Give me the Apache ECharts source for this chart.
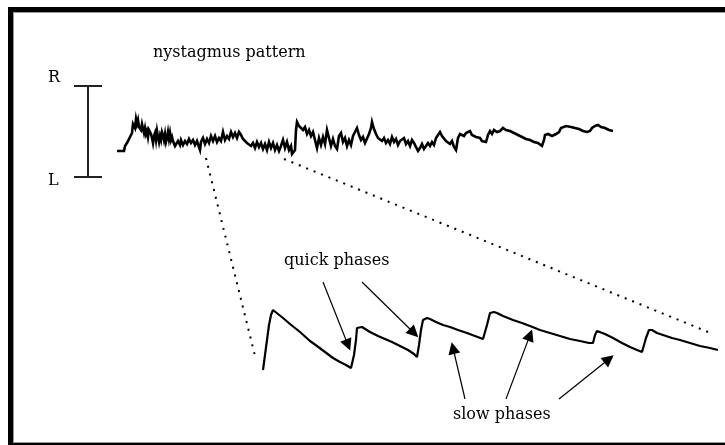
<!DOCTYPE html>
<html>
<head>
<meta charset="utf-8">
<script src="https://cdn.jsdelivr.net/npm/echarts@6/dist/echarts.min.js"></script>
<style>html,body{margin:0;padding:0;background:#fff}#c{width:725px;height:445px}</style>
</head>
<body>
<div id="c"></div>
<script>
// Overview eye-position trace (time, position; position axis points downward = leftward)
const topTime = [117,124,125,127,129,130,132,133,134,135,136,137,138,139,140,141,142,143,144,145,146,147,148,149,150,151,152,153,154,155,156,157,158,159,160,161,162,163,164,165,166,167,168,169,170,171,172,173,175,177,178,180,181,183,185,187,189,191,193,195,197,199,200,201,203,205,207,209,211,213,215,217,219,221,223,225,227,229,231,233,235,237,239,241,243,245,247,249,251,253,255,257,259,261,263,265,267,269,271,273,275,277,279,281,283,285,287,289,291,292,294,295,296,297,299,301,303,305,307,309,311,313,315,317,319,321,323,325,327,329,331,333,335,337,339,341,343,345,347,349,351,353,355,357,359,361,363,365,367,369,371,372,374,376,378,380,382,384,386,388,390,392,394,396,398,400,402,404,406,408,410,412,414,416,418,420,422,424,426,428,430,432,434,436,438,440,442,444,446,448,450,452,454,456,458,460,462,464,466,468,470,472,474,476,478,480,482,484,486,488,490,492,494,497,500,503,506,510,514,518,522,526,530,534,538,542,544,545,548,552,556,559,561,563,566,568,571,575,579,583,587,590,592,595,598,601,605,609,613];
const topPos  = [151,151,146,143,143,137,133,124,122,128,119,124,120,127,125,130,124,126,133,128,134,131,137,130,128,134,138,143,136,133,140,131,137,142,136,140,132,135,140,134,142,138,132,139,133,140,137,141,146,144,141,145,140,145,141,144,139,143,140,145,141,147,150,142,138,144,139,143,136,141,136,142,138,141,132,140,136,139,132,137,133,138,132,135,139,141,143,141,146,143,148,142,147,143,149,144,150,142,148,143,150,145,151,146,140,148,142,150,146,154,154,150,130,122,126,124,130,127,134,130,136,132,140,148,138,145,137,144,130,138,146,139,146,149,136,133,142,138,146,140,145,136,132,128,135,140,137,143,141,134,128,122,129,134,138,136,141,138,143,140,144,137,142,139,145,141,143,138,144,141,146,140,143,147,151,148,144,149,146,143,146,142,145,138,136,132,136,135,141,139,144,141,147,150,138,134,132,136,133,132,131,135,133,137,135,138,141,140,142,135,131,134,130,132,131,128,130,131,133,135,137,139,140,142,143,146,140,135,134,136,134,132,128,130,126,126,127,128,129,131,132,131,128,126,125,127,128,130,131];

// Magnified segment
const zoomTime = [263,265,267,269,271,273,275,278,283,290,300,310,317,325,333,340,346,351,353,354,356,357,359,362,364,370,378,385,392,400,408,414,417,419,421,423,427,430,436,443,450,458,467,475,483,485,487,490,494,497,503,513,522,530,540,550,560,570,580,589,593,595,597,599,605,613,622,630,637,642,644,646,649,652,657,663,672,680,690,700,710,718];
const zoomPos  = [370,355,340,325,315,310,312,314,318,324,332,341,346,352,358,362,365,368,368,355,340,328,327,327,329,332,336,339,342,346,350,354,357,345,330,320,318,319,322,325,327,330,333,336,339,339,325,313,312,313,316,320,323,326,330,333,336,339,341,343,343,335,331,331,334,338,343,347,350,352,345,338,330,330,333,335,338,340,343,346,348,350];

// Calibration bar (R / L)
const barTime = [74, 102, 88];
const barPos  = [86, 177];

// Dotted guide lines [fromTime, fromPos, toTime, toPos]
const guideLeft  = [206, 158, 255, 356];
const guideRight = [284, 159, 713, 334];

// Annotation arrows [fromTime, fromPos, toTime, toPos]
const quickArrows = [[323, 282, 348, 345], [362, 282, 414, 333]];
const slowArrows  = [[465, 399, 453, 348], [506, 399, 530, 335], [559, 399, 609, 359]];

const labels = {title: 'nystagmus pattern', right: 'R', left: 'L', quick: 'quick phases', slow: 'slow phases'};

const zip = (a, b) => a.map((v, i) => [v, b[i]]);
const font = '"DejaVu Serif", serif';

const chart = echarts.init(document.getElementById('c'), null, {renderer: 'canvas'});
const arrowLines = quickArrows.concat(slowArrows).map(a => ({coords: [[a[0], a[1]], [a[2], a[3]]]}));

chart.setOption({
  animation: false,
  backgroundColor: '#fff',
  grid: {left: 0, right: 0, top: 0, bottom: 0},
  xAxis: {type: 'value', min: 0, max: 725, show: false},
  yAxis: {type: 'value', min: 0, max: 445, inverse: true, show: false},
  series: [
    {type: 'line', data: zip(topTime, topPos), showSymbol: false, symbol: 'none',
     lineStyle: {color: '#000', width: 2.6, join: 'miter'}},
    {type: 'line', data: zip(zoomTime, zoomPos), showSymbol: false, symbol: 'none',
     lineStyle: {color: '#000', width: 2.2}},
    {type: 'lines', coordinateSystem: 'cartesian2d', polyline: false,
     lineStyle: {color: '#222', width: 2, opacity: 1},
     data: [
       {coords: [[barTime[0], barPos[0]], [barTime[1], barPos[0]]]},
       {coords: [[barTime[0], barPos[1]], [barTime[1], barPos[1]]]},
       {coords: [[barTime[2], barPos[0]], [barTime[2], barPos[1]]]}
     ]},
    {type: 'lines', coordinateSystem: 'cartesian2d',
     lineStyle: {color: '#000', width: 2, type: [2, 6], opacity: 1},
     data: [
       {coords: [[guideLeft[0], guideLeft[1]], [guideLeft[2], guideLeft[3]]]},
       {coords: [[guideRight[0], guideRight[1]], [guideRight[2], guideRight[3]]]}
     ]},
    {type: 'lines', coordinateSystem: 'cartesian2d',
     symbol: ['none', 'triangle'], symbolSize: 12,
     lineStyle: {color: '#000', width: 1.2, opacity: 1},
     data: arrowLines}
  ],
  graphic: [
    {type: 'rect', shape: {x: 8, y: 7, width: 717, height: 5}, style: {fill: '#000'}},
    {type: 'rect', shape: {x: 8, y: 7, width: 5, height: 438}, style: {fill: '#000'}},
    {type: 'rect', shape: {x: 13, y: 12, width: 712, height: 1}, style: {fill: '#9a9a9a'}},
    {type: 'rect', shape: {x: 13, y: 12, width: 1, height: 431}, style: {fill: '#9a9a9a'}},
    {type: 'rect', shape: {x: 13, y: 442, width: 712, height: 1}, style: {fill: '#9a9a9a'}},
    {type: 'rect', shape: {x: 8, y: 443, width: 717, height: 2}, style: {fill: '#000'}},
    {type: 'text', left: 153, top: 45, style: {text: labels.title, font: '16px ' + font, fill: '#000'}},
    {type: 'text', left: 48, top: 70, style: {text: labels.right, font: '16px ' + font, fill: '#000'}},
    {type: 'text', left: 48, top: 173, style: {text: labels.left, font: '16px ' + font, fill: '#000'}},
    {type: 'text', left: 284, top: 253, style: {text: labels.quick, font: '16px ' + font, fill: '#000'}},
    {type: 'text', left: 453, top: 407, style: {text: labels.slow, font: '16px ' + font, fill: '#000'}}
  ]
});
</script>
</body>
</html>
